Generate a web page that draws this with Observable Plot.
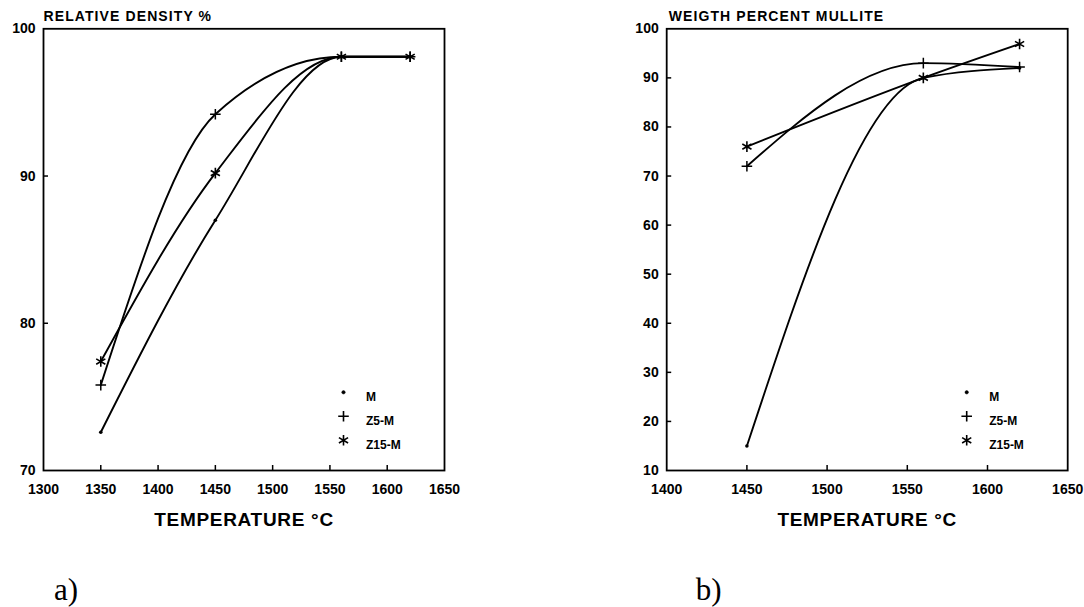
<!DOCTYPE html>
<html>
<head>
<meta charset="utf-8">
<script src="https://cdn.jsdelivr.net/npm/d3@7"></script>
<script src="https://cdn.jsdelivr.net/npm/@observablehq/plot@0.6"></script>
<style>
  body { margin: 0; background: #fff; }
  #wrap { position: relative; width: 1084px; height: 607px; overflow: hidden; background: #fff; }
  #wrap svg { position: absolute; top: 0; }
</style>
</head>
<body>
<div id="wrap"></div>
<script>
// ---- shared ----
const seriesNames = ["M", "Z5-M", "Z15-M"];
const seriesSymbols = ["circle", "plus", "asterisk"];

// ---- panel a: relative density ----
const titleA = "RELATIVE DENSITY %";
const tempsA = [1350, 1450, 1560, 1620];
const densityM = [72.6, 87.0, 98.1, 98.1];
const densityZ5 = [75.8, 94.2, 98.1, 98.1];
const densityZ15 = [77.4, 90.2, 98.1, 98.1];
const xTicksA = [1300, 1350, 1400, 1450, 1500, 1550, 1600, 1650];
const yTicksA = [70, 80, 90, 100];

// ---- panel b: weight percent mullite ----
const titleB = "WEIGTH PERCENT MULLITE";
const tempsB = [1450, 1560, 1620];
const mulliteM = [15, 90, 92];
const mulliteZ5 = [72, 93, 92.2];
const mulliteZ15 = [76, 90, 96.9];
const xTicksB = [1400, 1450, 1500, 1550, 1600, 1650];
const yTicksB = [10, 20, 30, 40, 50, 60, 70, 80, 90, 100];

const xLabel = "TEMPERATURE °C";

function panel({temps, series, xTicks, yTicks, title, tag, left, marginLeft, marginRight, titleDx, tagDx}) {
  const W = 544, H = 607, top = 28.3, bottom = 470;
  const frameW = W - marginLeft - marginRight;
  const frameH = bottom - top;
  const rows = series.flatMap((vals, i) => vals.map((v, j) => ({temp: temps[j], value: v, series: seriesNames[i]})));
  const bySeries = name => rows.filter(d => d.series === name);
  const legendMarks = seriesNames.flatMap((name, i) => [
    Plot.dot([name], {
      frameAnchor: "top-left", dx: 300, dy: 363.5 + i * 24,
      symbol: seriesSymbols[i],
      r: i === 0 ? 1.7 : (i === 1 ? 3.5 : 5),
      fill: i === 0 ? "black" : "none",
      stroke: "black", strokeWidth: i === 0 ? 0.5 : 1.6
    }),
    Plot.text([name], {
      text: d => d, frameAnchor: "top-left", dx: 322.5, dy: 363.5 + i * 24,
      textAnchor: "start", fontSize: 12, fontWeight: "bold", fill: "black"
    })
  ]);
  const svg = Plot.plot({
    width: W, height: H,
    marginLeft, marginRight, marginTop: top, marginBottom: H - bottom,
    x: {domain: [xTicks[0], xTicks[xTicks.length - 1]]},
    y: {domain: [yTicks[0], yTicks[yTicks.length - 1]]},
    style: {fontFamily: "Liberation Sans, Arial, sans-serif", color: "black", background: "transparent", overflow: "visible"},
    marks: [
      Plot.frame({stroke: "black", strokeWidth: 1.8}),
      Plot.tickX(xTicks.slice(1, -1), {x: d => d, insetTop: frameH - 5, stroke: "black", strokeWidth: 1.5}),
      Plot.tickY(yTicks.slice(1, -1), {y: d => d, insetRight: frameW - 5, stroke: "black", strokeWidth: 1.5}),
      Plot.axisX(xTicks, {tickSize: 0, tickPadding: 14, fontSize: 14, fontWeight: "bold", label: null, tickFormat: d => String(d)}),
      Plot.axisY(yTicks, {tickSize: 0, tickPadding: 8, fontSize: 14, fontWeight: "bold", label: null, tickFormat: d => String(d)}),
      Plot.line(rows, {x: "temp", y: "value", z: "series", curve: "monotone-x", stroke: "black", strokeWidth: 1.9}),
      Plot.dot(bySeries("M"), {x: "temp", y: "value", r: 1.8, fill: "black"}),
      Plot.dot(bySeries("Z5-M"), {x: "temp", y: "value", symbol: "plus", r: 3.5, stroke: "black", strokeWidth: 1.5}),
      Plot.dot(bySeries("Z15-M"), {x: "temp", y: "value", symbol: "asterisk", r: 5, stroke: "black", strokeWidth: 1.6}),
      ...legendMarks,
      Plot.text([title], {text: d => d, frameAnchor: "top-left", dx: titleDx, dy: -8.3, lineAnchor: "bottom", textAnchor: "start", fontSize: 14, fontWeight: "bold", fill: "black"}),
      Plot.text([xLabel], {text: d => d, frameAnchor: "bottom", dy: 55, lineAnchor: "bottom", fontSize: 19, fontWeight: "bold", fill: "black"}),
      Plot.text([tag], {text: d => d, frameAnchor: "bottom-left", dx: tagDx, dy: 129, lineAnchor: "bottom", textAnchor: "start", fontSize: 31, fontFamily: "Liberation Serif, Times New Roman, serif", fill: "black"})
    ]
  });
  svg.style.left = left + "px";
  // typographic touches: bold sans text, extra tracking on titles
  d3.select(svg).selectAll("text").each(function () {
    const t = this.textContent;
    if (t === tag) return;
    this.setAttribute("font-weight", "bold");
    if (t === title) this.style.letterSpacing = "1.1px";
    if (t === xLabel) this.style.letterSpacing = "0.7px";
  });
  return svg;
}

const wrap = document.getElementById("wrap");
wrap.appendChild(panel({
  temps: tempsA, series: [densityM, densityZ5, densityZ15],
  xTicks: xTicksA, yTicks: yTicksA, title: titleA, tag: "a)",
  left: 0, marginLeft: 43, marginRight: 544 - 444, titleDx: 0, tagDx: 10.5
}));
wrap.appendChild(panel({
  temps: tempsB, series: [mulliteM, mulliteZ5, mulliteZ15],
  xTicks: xTicksB, yTicks: yTicksB, title: titleB, tag: "b)",
  left: 540, marginLeft: 666.2 - 540, marginRight: 1084 - 1067.2 - 0, titleDx: 2, tagDx: 29
}));
</script>
</body>
</html>
